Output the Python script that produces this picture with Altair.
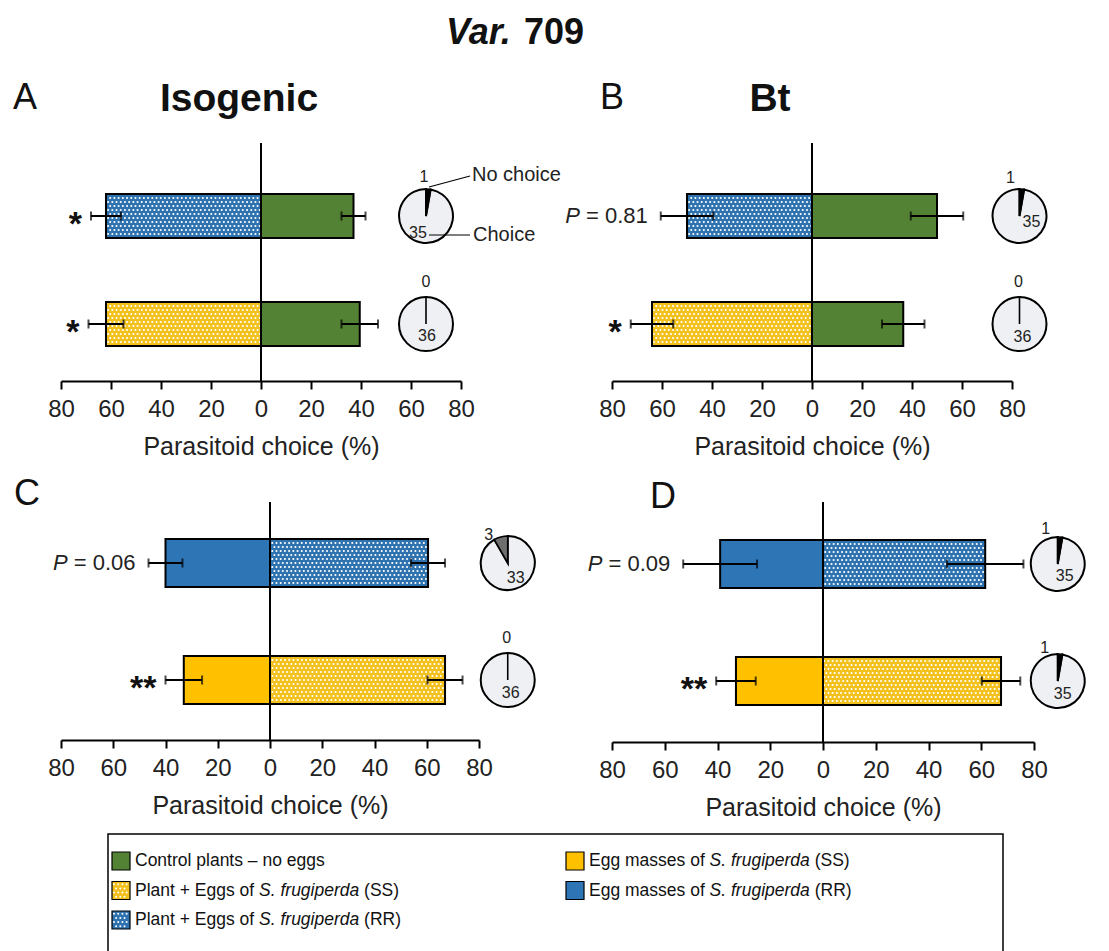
import math
import altair as alt
import pandas as pd

# ------------------------------------------------------------------ data
panel = ["A", "A", "B", "B", "C", "C", "D", "D"]
row = ["top", "bottom", "top", "bottom", "top", "bottom", "top", "bottom"]
left_series = ["Plant + Eggs (RR)", "Plant + Eggs (SS)", "Plant + Eggs (RR)", "Plant + Eggs (SS)",
               "Egg masses (RR)", "Egg masses (SS)", "Egg masses (RR)", "Egg masses (SS)"]
left_mean = [62, 62, 50, 64, 40, 33, 39, 33]
left_err = [6, 7, 10.5, 8.5, 6.5, 7, 14, 7.5]
right_series = ["Control", "Control", "Control", "Control",
                "Plant + Eggs (RR)", "Plant + Eggs (SS)", "Plant + Eggs (RR)", "Plant + Eggs (SS)"]
right_mean = [37, 39.5, 50, 36.5, 60.5, 67, 61.5, 67.5]
right_err = [4.8, 7.3, 10.5, 8.5, 6.5, 6.7, 14.5, 7.3]
significance = ["*", "*", "P = 0.81", "*", "P = 0.06", "**", "P = 0.09", "**"]
no_choice = [1, 0, 1, 0, 3, 0, 1, 1]
choice = [35, 36, 35, 36, 33, 36, 35, 35]

series_names = ["Control", "Plant + Eggs (SS)", "Plant + Eggs (RR)", "Egg masses (SS)", "Egg masses (RR)"]
legend_lead = ["Control plants \u2013 no eggs", "Plant + Eggs of", "Plant + Eggs of",
               "Egg masses of", "Egg masses of"]
legend_species = ["", "S. frugiperda", "S. frugiperda", "S. frugiperda", "S. frugiperda"]
legend_tail = ["", "(SS)", "(RR)", "(SS)", "(RR)"]
legend_col = [0, 0, 0, 1, 1]
legend_row = [0, 1, 2, 0, 1]
tick_values = [-80, -60, -40, -20, 0, 20, 40, 60, 80]
AXIS_TITLE = "Parasitoid choice (%)"

# ------------------------------------------------------------------ styles
FONT = "Liberation Sans"
series_colors = ["#548235", "#f3c11d", "#2f72b0", "#ffc000", "#2e75b6"]
PIE_FILL = "#eef0f3"

REG = {" ": 278, "(": 333, ")": 333, "%": 889, "+": 584, ".": 278, "=": 584, "\u2013": 556,
       "C": 722, "E": 667, "P": 667, "S": 667, "V": 667, "R": 722,
       "a": 556, "c": 500, "d": 556, "e": 556, "f": 278, "g": 556, "h": 556, "i": 222,
       "l": 222, "m": 833, "n": 556, "o": 556, "p": 556, "r": 333, "s": 500, "t": 278, "u": 556}
BOLD = {" ": 278, ".": 278, "V": 667, "a": 556, "r": 389}


def tw(s, size, table=REG):
    return sum(table.get(ch, 556) for ch in s) * size / 1000.0


PANELS = {
    "A": dict(width=400, height=238, c1=73, c2=181, bw=44, pie_x=66, wedge="black", ccw=False,
              letter=("A", -48, -45), heading=("Isogenic", 178, -44),
              no_lab={"top": (-2, -39), "bottom": (0, -42)},
              yes_lab={"top": (-8, 17), "bottom": (1, 12)}),
    "B": dict(width=400, height=238, c1=73, c2=181, bw=44, pie_x=83, wedge="black", ccw=False,
              letter=("B", -12, -45), heading=("Bt", 158, -44),
              no_lab={"top": (-9, -38), "bottom": (-1, -42)},
              yes_lab={"top": (12, 6), "bottom": (3, 13)}),
    "C": dict(width=418, height=238, c1=61, c2=178, bw=48, pie_x=91, wedge="#6e6e6e", ccw=True,
              letter=("C", -47, -8), heading=None,
              no_lab={"top": (-19, -28), "bottom": (-1, -42)},
              yes_lab={"top": (8, 15), "bottom": (3, 13)}),
    "D": dict(width=422, height=240, c1=62, c2=179, bw=48, pie_x=89, wedge="black", ccw=False,
              letter=("D", 38, -5), heading=None,
              no_lab={"top": (-12, -35), "bottom": (-13, -33)},
              yes_lab={"top": (7, 12), "bottom": (5, 13)}),
}

# ------------------------------------------------------------------ derived tables
recs = []
for i in range(len(panel)):
    for sign, s, m, e in ((-1, left_series[i], left_mean[i], left_err[i]),
                          (1, right_series[i], right_mean[i], right_err[i])):
        recs.append(dict(panel=panel[i], row=row[i], series=s, value=sign * m,
                         lo=sign * m - e, hi=sign * m + e, dotted=s.startswith("Plant")))
bars_df = pd.DataFrame(recs)

sig_df = pd.DataFrame(dict(panel=panel, row=row, label=significance,
                           anchor=[-(m + e) for m, e in zip(left_mean, left_err)],
                           rest=[s[1:].strip() if s.startswith("P") else "" for s in significance],
                           star=[not s.startswith("P") for s in significance]))

pie_recs = []
for i in range(len(panel)):
    total = no_choice[i] + choice[i]
    if PANELS[panel[i]]["ccw"]:
        no_start, yes_start = choice[i], 0
    else:
        no_start, yes_start = 0, no_choice[i]
    pie_recs.append(dict(panel=panel[i], row=row[i], kind="no", n=no_choice[i],
                         start=no_start, end=no_start + no_choice[i], total=total))
    pie_recs.append(dict(panel=panel[i], row=row[i], kind="yes", n=choice[i],
                         start=yes_start, end=yes_start + choice[i], total=total))
pie_df = pd.DataFrame(pie_recs)

one = pd.DataFrame({"k": [0]})


def band_scale(cfg):
    s = cfg["c2"] - cfg["c1"]
    p_in = 1 - cfg["bw"] / s
    outer_total = cfg["height"] - s * (2 - p_in)
    p_out = outer_total / (2 * s)
    align = (cfg["c1"] - cfg["bw"] / 2) / outer_total
    return alt.Scale(domain=["top", "bottom"], paddingInner=p_in, paddingOuter=p_out, align=align)


def make_panel(p):
    cfg = PANELS[p]
    xs = alt.Scale(domain=[-80, 80], nice=False, zero=False)
    ax = alt.Axis(values=tick_values, labelExpr="'' + abs(datum.value)", labelFlush=False)

    def X(field):
        return alt.X(f"{field}:Q", scale=xs, axis=ax, title=AXIS_TITLE)

    Y = alt.Y("row:N", scale=band_scale(cfg), axis=None)
    bp = bars_df[bars_df.panel == p]
    sp = sig_df[sig_df.panel == p]
    pp = pie_df[pie_df.panel == p]

    layers = []
    layers.append(alt.Chart(bp).mark_bar().encode(
        x=X("value"), x2=alt.datum(0), y=Y,
        color=alt.Color("series:N", scale=alt.Scale(domain=series_names, range=series_colors), legend=None)))
    # white dot texture on the "plant + eggs" bars
    n = int((cfg["bw"] - 8) // 4) + 1
    for j in range(n):
        off = (j - (n - 1) / 2.0) * 4
        layers.append(alt.Chart(bp).transform_filter("datum.dotted").mark_rule(
            color="white", strokeWidth=2.1, strokeCap="round", strokeDash=[0.01, 4.2],
            strokeDashOffset=(2.1 if j % 2 else 0), yOffset=off).encode(
            x=X("value"), x2=alt.datum(0), y=Y))
    layers.append(alt.Chart(bp).mark_bar(fillOpacity=0, stroke="black", strokeWidth=2).encode(
        x=X("value"), x2=alt.datum(0), y=Y))
    # zero line
    layers.append(alt.Chart(one).mark_rule(color="black", strokeWidth=2).encode(x=X("k")))
    # error bars
    layers.append(alt.Chart(bp).mark_rule(color="black", strokeWidth=2).encode(
        x=X("lo"), x2="hi", y=Y))
    for f in ("lo", "hi"):
        layers.append(alt.Chart(bp).mark_tick(color="black", thickness=2, size=9).encode(x=X(f), y=Y))
    # significance
    layers.append(alt.Chart(sp).transform_filter("datum.star").mark_text(
        font=FONT, fontSize=34, fontWeight="bold", align="right", baseline="alphabetic",
        dx=-9, dy=19, color="#111").encode(x=X("anchor"), y=Y, text="label:N"))
    gap = 13
    layers.append(alt.Chart(sp).transform_filter("!datum.star").mark_text(
        font=FONT, fontSize=22, align="right", baseline="middle", dx=-gap, color="#222").encode(
        x=X("anchor"), y=Y, text="rest:N"))
    layers.append(alt.Chart(sp).transform_filter("!datum.star").mark_text(
        font=FONT, fontSize=22, fontStyle="italic", align="right", baseline="middle",
        dx=-gap - tw(" = 0.81", 22), color="#222", text="P").encode(x=X("anchor"), y=Y))
    # pies
    th = alt.Theta("start:Q", scale=alt.Scale(domain=[0, 36]))
    layers.append(alt.Chart(pp).transform_filter("datum.kind == 'yes'").mark_arc(
        radius=27, fill=PIE_FILL, stroke="black", strokeWidth=2).encode(
        theta=th, theta2="end:Q", x=alt.datum(cfg["pie_x"]), y=Y))
    layers.append(alt.Chart(pp).transform_filter("datum.kind == 'no'").mark_arc(
        radius=27, fill=cfg["wedge"], stroke="black", strokeWidth=1.6).encode(
        theta=th, theta2="end:Q", x=alt.datum(cfg["pie_x"]), y=Y))
    for r in ("top", "bottom"):
        for kind, labs in (("no", cfg["no_lab"]), ("yes", cfg["yes_lab"])):
            dx, dy = labs[r]
            layers.append(alt.Chart(pp).transform_filter(
                f"datum.row == '{r}' && datum.kind == '{kind}'").mark_text(
                font=FONT, fontSize=16, dx=dx, dy=dy, baseline="middle", color="#222").encode(
                x=alt.datum(cfg["pie_x"]), y=Y, text="n:Q"))
    if p == "A":
        ap = pp[(pp.row == "top") & (pp.kind == "no")]
        layers.append(alt.Chart(ap).mark_rule(color="black", strokeWidth=1.2, xOffset=3, x2Offset=44,
                                              yOffset=-29, y2Offset=-40).encode(
            x=alt.datum(cfg["pie_x"]), x2=alt.datum(cfg["pie_x"]), y=Y, y2="row"))
        layers.append(alt.Chart(ap).mark_rule(color="black", strokeWidth=1.2, xOffset=3, x2Offset=44,
                                              yOffset=19, y2Offset=19).encode(
            x=alt.datum(cfg["pie_x"]), x2=alt.datum(cfg["pie_x"]), y=Y, y2="row"))
        layers.append(alt.Chart(ap).mark_text(font=FONT, fontSize=20, align="left", baseline="middle",
                                              dx=46, dy=-41, text="No choice", color="#222").encode(
            x=alt.datum(cfg["pie_x"]), y=Y))
        layers.append(alt.Chart(ap).mark_text(font=FONT, fontSize=20, align="left", baseline="middle",
                                              dx=47, dy=19, text="Choice", color="#222").encode(
            x=alt.datum(cfg["pie_x"]), y=Y))
        # figure header
        layers.append(alt.Chart(one).mark_text(font=FONT, fontSize=36, fontWeight="bold",
                                               fontStyle="italic", align="left", baseline="middle",
                                               text="Var.", color="#111").encode(
            x=alt.value(385), y=alt.value(-110)))
        layers.append(alt.Chart(one).mark_text(font=FONT, fontSize=36, fontWeight="bold",
                                               align="left", baseline="middle",
                                               text="709", color="#111").encode(
            x=alt.value(385 + tw("Var. ", 36, BOLD)), y=alt.value(-110)))
    letter, lx, ly = cfg["letter"]
    layers.append(alt.Chart(one).mark_text(font=FONT, fontSize=36, align="left", baseline="middle",
                                           text=letter, color="#111").encode(
        x=alt.value(lx), y=alt.value(ly)))
    if cfg["heading"]:
        h, hx, hy = cfg["heading"]
        layers.append(alt.Chart(one).mark_text(font=FONT, fontSize=39, fontWeight="bold", align="center",
                                               baseline="middle", text=h, color="#111").encode(
            x=alt.value(hx), y=alt.value(hy)))
    return alt.layer(*layers).properties(width=cfg["width"], height=cfg["height"])


# ------------------------------------------------------------------ legend
leg_df = pd.DataFrame(dict(series=series_names, col=legend_col, lrow=legend_row, lead=legend_lead,
                           species=legend_species, tail=legend_tail,
                           dotted=[s.startswith("Plant") for s in series_names]))
LX = alt.X("col:O", scale=alt.Scale(type="point", domain=[0, 1], range=[13, 467], padding=0), axis=None)
LY = alt.Y("lrow:O", scale=alt.Scale(type="point", domain=[0, 1, 2], range=[27, 86], padding=0), axis=None)
LFS = 17.5
leg_layers = [alt.Chart(leg_df).mark_square(size=324, opacity=1).encode(
    x=LX, y=LY, color=alt.Color("series:N", scale=alt.Scale(domain=series_names, range=series_colors),
                                legend=None))]
for j, off in enumerate([-6.3, -2.1, 2.1, 6.3]):
    leg_layers.append(alt.Chart(leg_df).transform_filter("datum.dotted").mark_rule(
        color="white", strokeWidth=2.0, strokeCap="round", strokeDash=[0.01, 4.2],
        strokeDashOffset=(2.1 if j % 2 else 0), xOffset=-7, x2Offset=7, yOffset=off).encode(
        x=LX, x2="col", y=LY))
leg_layers.append(alt.Chart(leg_df).mark_square(size=324, filled=False, color="black", strokeWidth=1.2,
                                                opacity=1).encode(x=LX, y=LY))
TX = 14
SPACE = tw(" ", LFS)
leg_layers.append(alt.Chart(leg_df).mark_text(font=FONT, fontSize=LFS, align="left", baseline="middle",
                                              dx=TX, color="#111").encode(x=LX, y=LY, text="lead:N"))
for c, lead in ((0, "Plant + Eggs of"), (1, "Egg masses of")):
    w1 = tw(lead, LFS) + SPACE
    w2 = tw("S. frugiperda", LFS) + SPACE
    leg_layers.append(alt.Chart(leg_df).transform_filter(f"datum.col == {c} && datum.species != ''").mark_text(
        font=FONT, fontSize=LFS, fontStyle="italic", align="left", baseline="middle", dx=TX + w1,
        color="#111").encode(x=LX, y=LY, text="species:N"))
    leg_layers.append(alt.Chart(leg_df).transform_filter(f"datum.col == {c} && datum.species != ''").mark_text(
        font=FONT, fontSize=LFS, align="left", baseline="middle", dx=TX + w1 + w2,
        color="#111").encode(x=LX, y=LY, text="tail:N"))
legend = alt.layer(*leg_layers).properties(
    width=895, height=118, view=alt.ViewBackground(stroke="black", strokeWidth=1.5))
spacer = alt.Chart(one).mark_text(text=" ").encode(x=alt.value(0), y=alt.value(0)).properties(
    width=47, height=118)

grid = alt.concat(make_panel("A"), make_panel("B"), make_panel("C"), make_panel("D"),
                  columns=2, spacing={"row": 121, "column": 133}, bounds="flush")
leg_row = alt.hconcat(spacer, legend, spacing=0, bounds="flush")
chart = alt.vconcat(grid, leg_row, spacing=8, bounds="full").properties(
    padding={"left": 5, "top": 7, "right": 5, "bottom": 5}).configure(font=FONT).configure_view(
    stroke=None).configure_axis(
    grid=False, domainColor="black", domainWidth=2, tickColor="black", tickWidth=2, tickSize=8,
    labelFont=FONT, labelFontSize=24, labelColor="#222", labelPadding=8,
    titleFont=FONT, titleFontSize=25, titleFontWeight="normal", titleColor="#222", titlePadding=13)

chart.save("out.html", embed_options={"renderer": "svg", "actions": False})
